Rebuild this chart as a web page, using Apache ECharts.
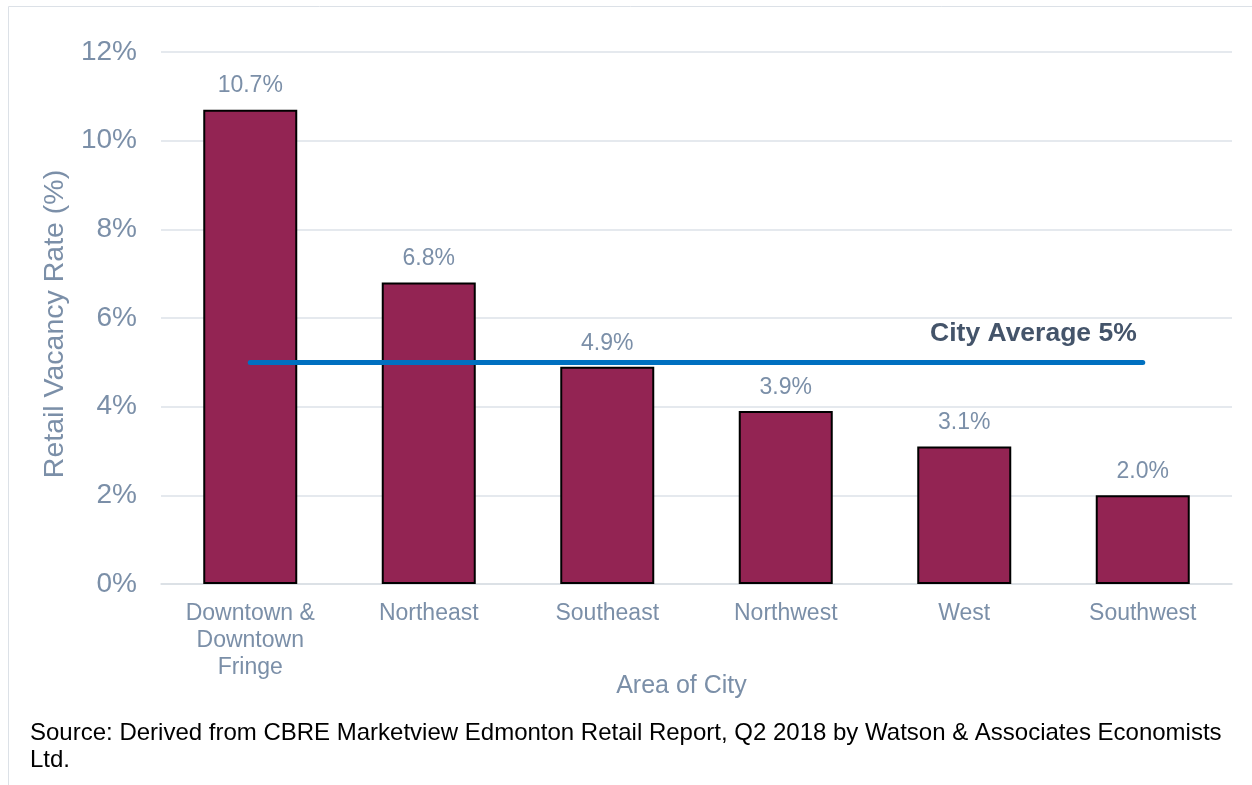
<!DOCTYPE html>
<html>
<head>
<meta charset="utf-8">
<script src="https://cdn.jsdelivr.net/npm/echarts@6/dist/echarts.min.js"></script>
<style>
  html, body { margin: 0; padding: 0; background: #fff; }
  #chart { width: 1252px; height: 785px; }
</style>
</head>
<body>
<div id="chart"></div>
<script>
const categories = ["Downtown &\nDowntown\nFringe", "Northeast", "Southeast", "Northwest", "West", "Southwest"];
const vacancyRates = [10.7, 6.8, 4.9, 3.9, 3.1, 2.0];
const cityAverage = 5;
const sourceNote = "Source: Derived from CBRE Marketview Edmonton Retail Report, Q2 2018 by Watson & Associates Economists\nLtd.";

const axisGrey = "#7B8FA8";
const font = "Liberation Sans, Arial, sans-serif";

const chart = echarts.init(document.getElementById("chart"));
chart.setOption({
  animation: false,
  textStyle: { fontFamily: font },
  graphic: [
    {
      type: "rect",
      shape: { x: 8.5, y: 6.5, width: 1400, height: 900 },
      style: { fill: "none", stroke: "#DCE1E7", lineWidth: 1 },
      silent: true,
    },
  ],
  title: {
    text: sourceNote,
    left: 25,
    top: 715,
    textStyle: { fontFamily: font, fontSize: 24, fontWeight: "normal", color: "#000", lineHeight: 27 },
  },
  grid: { left: 161, right: 20, top: 52, bottom: 201 },
  xAxis: {
    type: "category",
    data: categories,
    name: "Area of City",
    nameLocation: "middle",
    nameGap: 90,
    nameMoveOverlap: false,
    nameTextStyle: { fontFamily: font, fontSize: 25, color: axisGrey, padding: [0, 30, 0, 0] },
    axisLine: { lineStyle: { color: "#D9DEE4", width: 1.5 } },
    axisTick: { show: false },
    axisLabel: { fontFamily: font, fontSize: 23, color: axisGrey, lineHeight: 27, margin: 16, interval: 0 },
  },
  yAxis: {
    type: "value",
    min: 0,
    max: 12,
    interval: 2,
    name: "Retail Vacancy Rate (%)",
    nameLocation: "middle",
    nameGap: 91,
    nameMoveOverlap: false,
    nameTextStyle: { fontFamily: font, fontSize: 28.5, color: axisGrey, padding: [0, 12, 0, 0] },
    axisLabel: { formatter: "{value}%", fontFamily: font, fontSize: 28, color: axisGrey, margin: 24 },
    splitLine: { lineStyle: { color: "#DDE2E8", width: 1.5 } },
  },
  series: [
    {
      type: "bar",
      data: vacancyRates,
      barWidth: 94,
      itemStyle: { color: "#932453", borderColor: "#000", borderWidth: 2 },
      label: {
        show: true,
        position: "top",
        distance: 12,
        formatter: (p) => p.value.toFixed(1) + "%",
        fontFamily: font,
        fontSize: 23,
        color: axisGrey,
      },
      markLine: {
        silent: true,
        symbol: "none",
        lineStyle: { color: "#0070C0", width: 5, type: "solid", cap: "round" },
        label: {
          show: true,
          position: "insideEndTop",
          formatter: "City Average " + cityAverage + "%",
          fontFamily: font,
          fontSize: 26.5,
          fontWeight: "bold",
          color: "#44546A",
          distance: [6, 15],
        },
        data: [[{ coord: [0, cityAverage] }, { coord: [5, cityAverage] }]],
      },
    },
  ],
});
</script>
</body>
</html>
